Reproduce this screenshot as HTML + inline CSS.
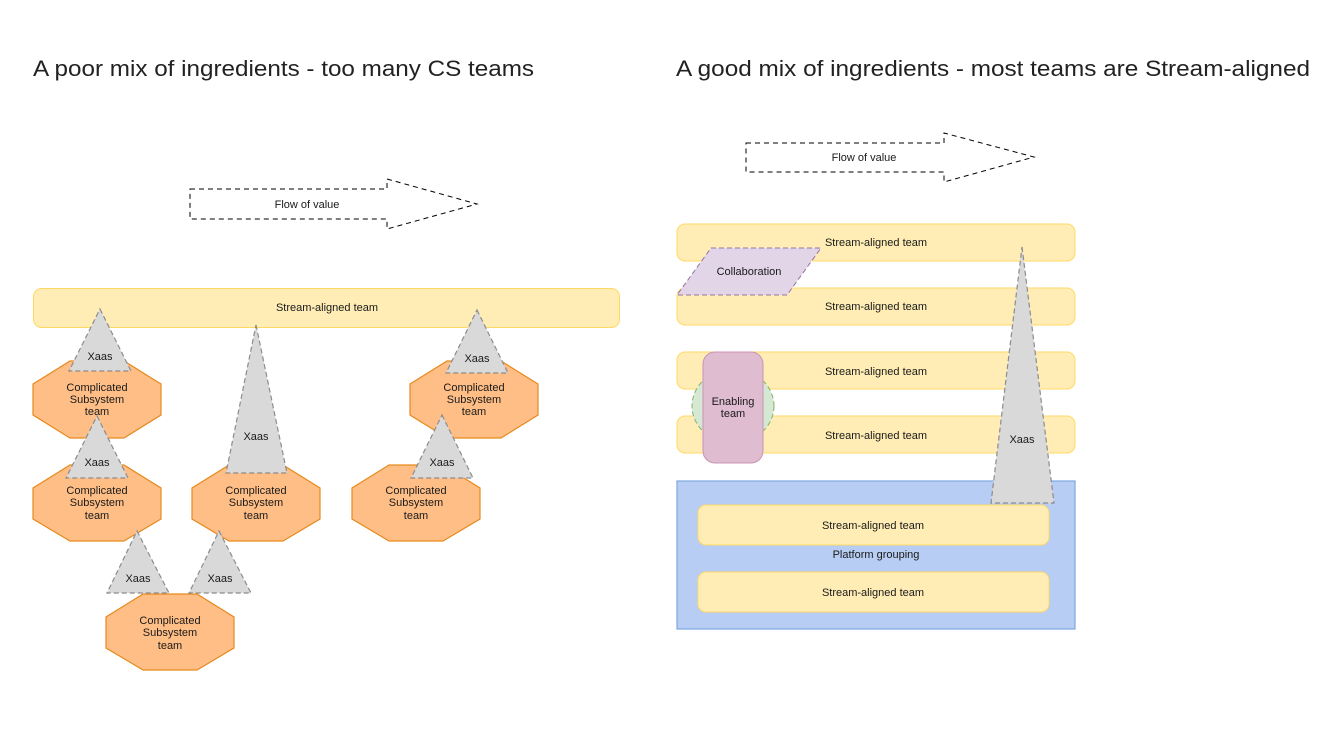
<!DOCTYPE html>
<html><head><meta charset="utf-8"><style>
html,body{margin:0;padding:0;background:#fff;}
svg{display:block;}
text{font-family:"Liberation Sans",Arial,sans-serif;fill:#1a1a1a;}
.s{font-size:11px;text-anchor:middle;}
.t{font-size:22px;fill:#222;}
.bar{fill:#ffedb5;stroke:#ffd966;stroke-width:1;}
.oct{fill:#ffbe86;stroke:#e68a1e;stroke-width:1.2;}
.tri{fill:#d9d9d9;stroke:#8c8c8c;stroke-width:1.2;stroke-dasharray:5,3;}
.arr{fill:#fff;stroke:#000;stroke-width:1;stroke-dasharray:5,4;}
</style></head><body>
<svg width="1333" height="750" viewBox="0 0 1333 750" xmlns="http://www.w3.org/2000/svg">
<text class="t" x="33" y="76" textLength="501" lengthAdjust="spacingAndGlyphs">A poor mix of ingredients - too many CS teams</text>
<text class="t" x="676" y="76" textLength="634" lengthAdjust="spacingAndGlyphs">A good mix of ingredients - most teams are Stream-aligned</text>

<polygon class="arr" points="190,189 387,189 387,179 477,204 387,229 387,219 190,219"/>
<text class="s" x="307" y="208">Flow of value</text>
<polygon class="arr" points="746,143 944,143 944,133 1034,157 944,182 944,172 746,172"/>
<text class="s" x="864" y="161">Flow of value</text>

<rect class="bar" x="33.5" y="288.5" width="586" height="39" rx="8"/>
<text class="s" x="327" y="311">Stream-aligned team</text>

<g>
<polygon class="oct" points="70,361 124,361 161,384 161,415 124,438 70,438 33,415 33,384"/>
<polygon class="oct" points="70,465 124,465 161,488 161,519 124,541 70,541 33,519 33,488"/>
<polygon class="oct" points="229,465 283,465 320,488 320,519 283,541 229,541 192,519 192,488"/>
<polygon class="oct" points="447,361 501,361 538,384 538,415 501,438 447,438 410,415 410,384"/>
<polygon class="oct" points="389,465 443,465 480,488 480,519 443,541 389,541 352,519 352,488"/>
<polygon class="oct" points="143,594 197,594 234,617 234,648 197,670 143,670 106,648 106,617"/>
</g>
<g class="s">
<text class="s" x="97" y="391">Complicated</text><text class="s" x="97" y="403">Subsystem</text><text class="s" x="97" y="415">team</text>
<text class="s" x="97" y="494">Complicated</text><text class="s" x="97" y="506">Subsystem</text><text class="s" x="97" y="519">team</text>
<text class="s" x="256" y="494">Complicated</text><text class="s" x="256" y="506">Subsystem</text><text class="s" x="256" y="519">team</text>
<text class="s" x="474" y="391">Complicated</text><text class="s" x="474" y="403">Subsystem</text><text class="s" x="474" y="415">team</text>
<text class="s" x="416" y="494">Complicated</text><text class="s" x="416" y="506">Subsystem</text><text class="s" x="416" y="519">team</text>
<text class="s" x="170" y="624">Complicated</text><text class="s" x="170" y="636">Subsystem</text><text class="s" x="170" y="649">team</text>
</g>

<polygon class="tri" points="100,309 131,371 69,371"/><text class="s" x="100" y="360">Xaas</text>
<polygon class="tri" points="256,325 287,473 226,473"/><text class="s" x="256" y="440">Xaas</text>
<polygon class="tri" points="477,310 508,373 446,373"/><text class="s" x="477" y="362">Xaas</text>
<polygon class="tri" points="97,416 128,478 66,478"/><text class="s" x="97" y="466">Xaas</text>
<polygon class="tri" points="442,415 473,478 411,478"/><text class="s" x="442" y="466">Xaas</text>
<polygon class="tri" points="137,531 169,593 107,593"/><text class="s" x="138" y="582">Xaas</text>
<polygon class="tri" points="219,531 251,593 189,593"/><text class="s" x="220" y="582">Xaas</text>

<rect class="bar" x="677" y="224" width="398" height="37" rx="8"/><text class="s" x="876" y="246">Stream-aligned team</text>
<rect class="bar" x="677" y="288" width="398" height="37" rx="8"/><text class="s" x="876" y="310">Stream-aligned team</text>
<rect class="bar" x="677" y="352" width="398" height="37" rx="8"/><text class="s" x="876" y="375">Stream-aligned team</text>
<rect class="bar" x="677" y="416" width="398" height="37" rx="8"/><text class="s" x="876" y="439">Stream-aligned team</text>

<polygon points="711,248 821,248 787,295 677,295" fill="#e1d5e7" stroke="#9673a6" stroke-width="1" stroke-dasharray="5,3"/>
<text class="s" x="749" y="275">Collaboration</text>

<ellipse cx="733" cy="406" rx="41" ry="37" fill="#d5e8d4" stroke="#82b366" stroke-width="1" stroke-dasharray="5,3"/>
<rect x="703" y="352" width="60" height="111" rx="12" fill="#dfbcd0" stroke="#c894b4" stroke-width="1"/>
<text class="s" x="733" y="405">Enabling</text><text class="s" x="733" y="417">team</text>

<rect x="677" y="481" width="398" height="148" fill="#b7cdf3" stroke="#7ea6e0" stroke-width="1.2"/>
<polygon class="tri" points="1022,247 1054,503 991,503"/><text class="s" x="1022" y="443">Xaas</text>
<rect class="bar" x="698" y="505" width="351" height="40" rx="8"/><text class="s" x="873" y="529">Stream-aligned team</text>
<text class="s" x="876" y="558">Platform grouping</text>
<rect class="bar" x="698" y="572" width="351" height="40" rx="8"/><text class="s" x="873" y="596">Stream-aligned team</text>
</svg>
</body></html>
